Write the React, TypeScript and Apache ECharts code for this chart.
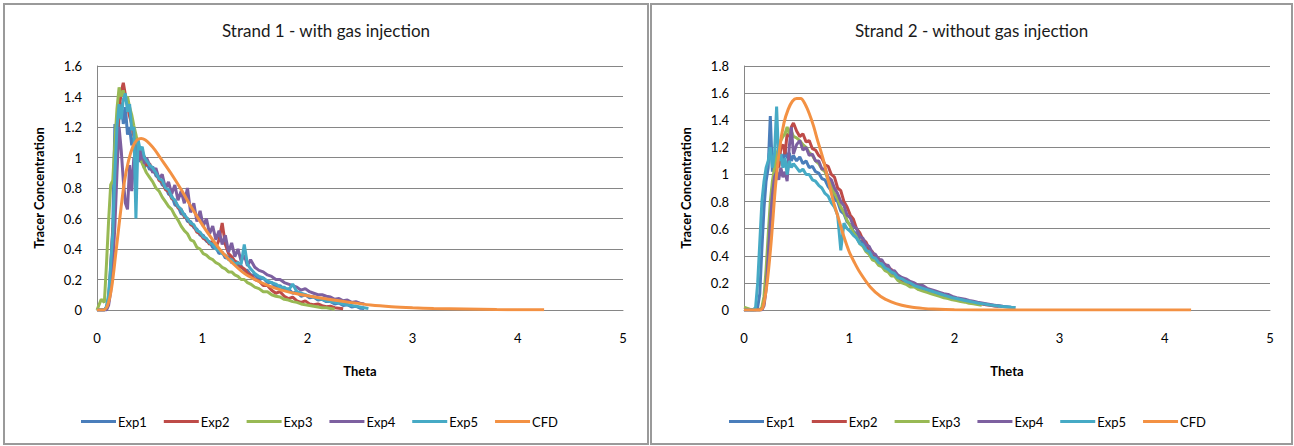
import React, { useEffect, useRef } from "react";
import * as echarts from "echarts";

// Shared theta sampling grid for the experimental curves
const THETA_EXP = [
  0, 0.04, 0.07, 0.09, 0.11, 0.13, 0.15, 0.17,
  0.19, 0.21, 0.23, 0.25, 0.27, 0.29, 0.31, 0.33, 0.35, 0.37, 0.39, 0.41, 0.43, 0.45, 0.47,
  0.5, 0.53, 0.56, 0.59, 0.62, 0.65, 0.68, 0.71, 0.74, 0.77, 0.8, 0.83, 0.86, 0.89, 0.92, 0.95, 0.98,
  1.01, 1.04, 1.07, 1.1, 1.13, 1.16, 1.19, 1.22, 1.25, 1.28, 1.31, 1.34, 1.37, 1.4, 1.43, 1.46,
  1.5, 1.54, 1.58, 1.62, 1.66, 1.7, 1.74, 1.78, 1.82, 1.86, 1.9, 1.94, 1.98, 2.02, 2.06, 2.1,
  2.14, 2.18, 2.22, 2.26, 2.3, 2.34, 2.38, 2.42, 2.46, 2.5, 2.54, 2.58,
];

// Strand 1 - with gas injection
const S1_EXP1 = [
  0, 0, 0, 0.02, 0.08, 0.25, 0.55, 1.22,
  1.02, 1.28, 1.36, 1.22, 1.33, 1.15, 1.2, 1.08, 1.13, 1.0, 1.06, 0.97, 1.02, 0.93, 0.97,
  0.92, 0.94, 0.88, 0.87, 0.82, 0.81, 0.76, 0.75, 0.69, 0.68, 0.63, 0.63, 0.58, 0.58, 0.54, 0.53, 0.49,
  0.49, 0.45, 0.45, 0.41, 0.41, 0.37, 0.38, 0.34, 0.35, 0.31, 0.32, 0.28, 0.29, 0.26, 0.26, 0.23,
  0.23, 0.2, 0.21, 0.18, 0.18, 0.15, 0.16, 0.13, 0.14, 0.11, 0.12, 0.09, 0.1, 0.08, 0.085, 0.065,
  0.07, 0.055, 0.055, 0.04, 0.045, 0.03, 0.035, 0.02, 0.025, 0.012, 0.01,
];
const S1_EXP2 = [
  0, 0, 0, 0.01, 0.05, 0.28, 0.52, 0.7,
  1.08, 1.3, 1.43, 1.49, 1.41, 1.34, 1.27, 1.22, 1.14, 1.12, 1.05, 1.04, 0.98, 1.01, 0.95,
  0.96, 0.91, 0.9, 0.85, 0.84, 0.79, 0.78, 0.73, 0.72, 0.67, 0.66, 0.61, 0.6, 0.56, 0.55, 0.51, 0.5,
  0.47, 0.46, 0.43, 0.45, 0.41, 0.46, 0.57, 0.43, 0.37, 0.35, 0.32, 0.31, 0.28, 0.27, 0.24, 0.23,
  0.2, 0.19, 0.16, 0.16, 0.13, 0.11, 0.12, 0.09, 0.075, 0.085, 0.06, 0.05, 0.06, 0.04, 0.035, 0.04,
  0.028, 0.022, 0.025, 0.015, 0.012, 0.008,
];
const S1_EXP3 = [
  0, 0.07, 0.05, 0.3, 0.58, 0.82, 0.85, 1.1,
  1.32, 1.46, 1.4, 1.44, 1.37, 1.4, 1.33, 1.28, 1.21, 1.15, 1.08, 1.0, 0.96, 0.93, 0.9,
  0.87, 0.84, 0.8, 0.78, 0.74, 0.71, 0.68, 0.66, 0.62, 0.59, 0.55, 0.52, 0.5, 0.46, 0.45, 0.41, 0.4,
  0.37, 0.36, 0.34, 0.33, 0.31, 0.3, 0.28, 0.27, 0.25, 0.25, 0.23, 0.22, 0.2, 0.2, 0.18, 0.17,
  0.15, 0.14, 0.12, 0.12, 0.1, 0.09, 0.085, 0.07, 0.065, 0.055, 0.05, 0.04, 0.035, 0.03, 0.025, 0.02,
  0.015, 0.015, 0.01, 0.005,
];
const S1_EXP4 = [
  0, 0, 0, 0, 0.03, 0.12, 0.3, 0.55,
  0.9, 1.2, 1.05, 0.85, 0.7, 0.66, 0.95, 0.78, 1.0, 0.92, 1.08, 0.98, 1.05, 0.96, 1.0,
  0.95, 0.9, 0.93, 0.86, 0.89, 0.8, 0.84, 0.76, 0.82, 0.72, 0.78, 0.7, 0.8, 0.64, 0.7, 0.58, 0.65,
  0.55, 0.6, 0.5, 0.55, 0.46, 0.52, 0.43, 0.49, 0.38, 0.44, 0.35, 0.4, 0.32, 0.36, 0.29, 0.33,
  0.28, 0.26, 0.25, 0.23, 0.22, 0.2, 0.2, 0.18, 0.17, 0.16, 0.15, 0.13, 0.14, 0.12, 0.11, 0.1,
  0.1, 0.09, 0.085, 0.07, 0.075, 0.06, 0.065, 0.05, 0.055, 0.045, 0.04,
];
const S1_EXP5 = [
  0, 0, 0, 0.02, 0.1, 0.3, 0.5, 0.9,
  1.2, 1.35, 1.25, 1.38, 1.42, 1.3, 1.35, 1.18, 1.2, 0.6, 1.12, 1.05, 1.07, 1.0, 0.98,
  0.95, 0.93, 0.9, 0.86, 0.85, 0.8, 0.79, 0.74, 0.72, 0.68, 0.66, 0.62, 0.6, 0.57, 0.56, 0.52, 0.51,
  0.48, 0.47, 0.44, 0.43, 0.4, 0.39, 0.37, 0.36, 0.33, 0.33, 0.3, 0.31, 0.3, 0.43, 0.3, 0.27,
  0.24, 0.22, 0.21, 0.19, 0.18, 0.17, 0.15, 0.15, 0.13, 0.17, 0.12, 0.11, 0.1, 0.09, 0.085, 0.075,
  0.07, 0.06, 0.055, 0.05, 0.045, 0.04, 0.035, 0.03, 0.025, 0.02, 0.015, 0.01,
];
const S1_CFD_THETA = [
  0, 0.06, 0.1, 0.14, 0.18, 0.22, 0.26, 0.3, 0.34, 0.38, 0.42, 0.46, 0.5, 0.55, 0.6, 0.7, 0.8, 0.9,
  1.0, 1.1, 1.2, 1.3, 1.4, 1.5, 1.6, 1.7, 1.8, 1.9, 2.0, 2.2, 2.4, 2.6, 2.8, 3.0, 3.2, 3.5, 3.8, 4.0, 4.25,
];
const S1_CFD = [
  0, 0, 0.03, 0.15, 0.38, 0.62, 0.84, 0.98, 1.07, 1.115, 1.125, 1.115, 1.09, 1.05, 1.0, 0.9, 0.79, 0.67,
  0.56, 0.46, 0.37, 0.3, 0.24, 0.2, 0.168, 0.142, 0.122, 0.106, 0.093, 0.07, 0.05, 0.033, 0.022, 0.015, 0.01, 0.006, 0.003, 0.002, 0.001,
];

// Strand 2 - without gas injection
const S2_EXP1 = [
  0, 0, 0, 0, 0, 0.02, 0.12, 0.45,
  0.75, 0.95, 1.05, 1.43, 1.02, 1.1, 1.12, 1.06, 1.15, 1.1, 1.18, 1.12, 1.16, 1.1, 1.14,
  1.1, 1.13, 1.08, 1.1, 1.05, 1.06, 1.02, 1.01, 0.97, 0.96, 0.91, 0.88, 0.82, 0.8, 0.73, 0.71, 0.65,
  0.63, 0.58, 0.56, 0.51, 0.5, 0.45, 0.44, 0.4, 0.39, 0.35, 0.35, 0.31, 0.31, 0.27, 0.27, 0.24,
  0.22, 0.21, 0.19, 0.19, 0.16, 0.16, 0.14, 0.14, 0.12, 0.12, 0.1, 0.1, 0.088, 0.082, 0.075, 0.072,
  0.062, 0.06, 0.05, 0.048, 0.04, 0.038, 0.032, 0.03, 0.025, 0.024, 0.02, 0.018,
];
const S2_EXP2 = [
  0, 0, 0, 0, 0, 0, 0, 0.01,
  0.05, 0.2, 0.45, 0.7, 0.9, 1.0, 1.1, 1.05, 1.2, 1.22, 1.15, 1.3, 1.28, 1.35, 1.38,
  1.32, 1.28, 1.3, 1.24, 1.25, 1.19, 1.18, 1.14, 1.12, 1.07, 1.06, 1.0, 0.98, 0.9, 0.88, 0.8, 0.76,
  0.7, 0.67, 0.6, 0.57, 0.52, 0.5, 0.45, 0.43, 0.39, 0.38, 0.34, 0.34, 0.3, 0.3, 0.26, 0.25,
  0.22, 0.21, 0.19, 0.18, 0.16, 0.16, 0.14, 0.13, 0.12, 0.11, 0.1, 0.095, 0.085, 0.08, 0.07, 0.068,
  0.06, 0.055, 0.048, 0.045, 0.038, 0.035, 0.03, 0.027,
];
const S2_EXP3 = [
  0.02, 0.01, 0, 0, 0, 0, 0, 0.02,
  0.1, 0.3, 0.55, 0.8, 0.95, 1.05, 1.15, 1.2, 1.25, 1.28, 1.3, 1.35, 1.3, 1.32, 1.28,
  1.27, 1.25, 1.22, 1.2, 1.16, 1.14, 1.1, 1.08, 1.04, 1.02, 0.96, 0.92, 0.86, 0.82, 0.76, 0.72, 0.66,
  0.62, 0.57, 0.54, 0.49, 0.47, 0.43, 0.41, 0.37, 0.36, 0.33, 0.32, 0.29, 0.28, 0.25, 0.25, 0.22,
  0.2, 0.19, 0.17, 0.17, 0.15, 0.14, 0.13, 0.12, 0.11, 0.1, 0.09, 0.085, 0.075, 0.07, 0.062, 0.058,
  0.05, 0.046, 0.04, 0.035,
];
const S2_EXP4 = [
  0, 0, 0, 0, 0, 0, 0, 0,
  0.03, 0.15, 0.4, 0.65, 0.85, 0.98, 1.02, 0.96, 1.05, 0.98, 1.02, 0.95, 1.2, 1.35, 1.15,
  1.22, 1.25, 1.18, 1.2, 1.14, 1.15, 1.1, 1.1, 1.04, 1.04, 0.98, 0.96, 0.9, 0.86, 0.8, 0.77, 0.7,
  0.68, 0.62, 0.6, 0.54, 0.53, 0.48, 0.47, 0.42, 0.41, 0.37, 0.37, 0.33, 0.33, 0.29, 0.29, 0.26,
  0.24, 0.23, 0.21, 0.2, 0.18, 0.18, 0.16, 0.15, 0.14, 0.13, 0.12, 0.115, 0.1, 0.09, 0.085, 0.08,
  0.07, 0.065, 0.058, 0.052, 0.046, 0.04, 0.036, 0.032, 0.028,
];
const S2_EXP5 = [
  0, 0, 0, 0, 0.02, 0.2, 0.5, 0.8,
  0.95, 1.05, 1.1, 1.2, 1.05, 1.15, 1.5, 1.1, 1.15, 1.05, 1.12, 1.0, 1.1, 1.05, 1.08,
  1.05, 1.02, 1.04, 1.0, 1.0, 0.96, 0.95, 0.92, 0.9, 0.86, 0.84, 0.79, 0.76, 0.7, 0.44, 0.64, 0.6,
  0.58, 0.55, 0.53, 0.49, 0.48, 0.44, 0.43, 0.39, 0.38, 0.35, 0.34, 0.31, 0.3, 0.28, 0.27, 0.24,
  0.23, 0.21, 0.2, 0.18, 0.17, 0.16, 0.15, 0.14, 0.13, 0.12, 0.11, 0.1, 0.09, 0.085, 0.078, 0.07,
  0.064, 0.058, 0.052, 0.047, 0.042, 0.037, 0.033, 0.03, 0.026, 0.023, 0.02, 0.018,
];
const S2_CFD_THETA = [
  0, 0.15, 0.18, 0.22, 0.26, 0.3, 0.34, 0.38, 0.42, 0.46, 0.5, 0.54, 0.58, 0.62, 0.66, 0.7, 0.75, 0.8,
  0.85, 0.9, 0.95, 1.0, 1.05, 1.1, 1.2, 1.3, 1.4, 1.5, 1.6, 1.7, 1.8, 2.0, 2.5, 3.0, 4.25,
];
const S2_CFD = [
  0, 0, 0.02, 0.2, 0.52, 0.92, 1.2, 1.38, 1.48, 1.54, 1.56, 1.56, 1.52, 1.45, 1.36, 1.25, 1.12, 0.96,
  0.8, 0.67, 0.54, 0.43, 0.35, 0.28, 0.17, 0.1, 0.06, 0.035, 0.02, 0.012, 0.007, 0.002, 0.0005, 0, 0,
];

const SERIES_NAMES = ["Exp1", "Exp2", "Exp3", "Exp4", "Exp5", "CFD"];
const SERIES_COLORS = ["#4A7EBB", "#BE4B48", "#98B954", "#7D60A0", "#46AAC5", "#F39143"];
const PANEL_TITLES = ["Strand 1 - with gas injection", "Strand 2 - without gas injection"];
const Y_MAX = [1.6, 1.8];
const X_NAME = "Theta";
const Y_NAME = "Tracer Concentration";

const FONT = "Lato, 'Liberation Sans', sans-serif";

function zip(xs: number[], ys: number[]) {
  const out: number[][] = [];
  for (let i = 0; i < ys.length && i < xs.length; i++) out.push([xs[i], ys[i]]);
  return out;
}

export default function App() {
  const ref = useRef<HTMLDivElement>(null);
  useEffect(() => {
    if (!ref.current) return;
    const chart = echarts.init(ref.current, undefined, { renderer: "svg" });
    const panels = [
      { exps: [S1_EXP1, S1_EXP2, S1_EXP3, S1_EXP4, S1_EXP5], cfdT: S1_CFD_THETA, cfd: S1_CFD },
      { exps: [S2_EXP1, S2_EXP2, S2_EXP3, S2_EXP4, S2_EXP5], cfdT: S2_CFD_THETA, cfd: S2_CFD },
    ];
    const gridLefts = [97, 744];
    const panelRects = [
      { x: 4, w: 644 },
      { x: 651, w: 641 },
    ];
    const series: any[] = [];
    panels.forEach((p, pi) => {
      p.exps.forEach((vals, si) => {
        series.push({
          name: SERIES_NAMES[si],
          type: "line",
          xAxisIndex: pi,
          yAxisIndex: pi,
          showSymbol: false,
          symbol: "none",
          data: zip(THETA_EXP, vals),
          lineStyle: { width: 3, color: SERIES_COLORS[si] },
          itemStyle: { color: SERIES_COLORS[si] },
        });
      });
      series.push({
        name: "CFD",
        type: "line",
        xAxisIndex: pi,
        yAxisIndex: pi,
        showSymbol: false,
        symbol: "none",
        smooth: 0.3,
        data: zip(p.cfdT, p.cfd),
        lineStyle: { width: 3, color: SERIES_COLORS[5] },
        itemStyle: { color: SERIES_COLORS[5] },
      });
    });

    const option: any = {
      animation: false,
      textStyle: { fontFamily: FONT },
      grid: gridLefts.map((l) => ({ left: l, top: 66, width: 526, height: 244 })),
      xAxis: gridLefts.map((_, i) => ({
        gridIndex: i,
        type: "value",
        min: 0,
        max: 5,
        interval: 1,
        axisLine: { show: true, onZero: false, lineStyle: { color: "#868686", width: 1 } },
        axisTick: { show: false },
        splitLine: { show: false },
        axisLabel: { margin: 21, color: "#000", fontSize: 13, fontFamily: FONT },
        name: X_NAME,
        nameLocation: "middle",
        nameGap: 54,
        nameTextStyle: { fontWeight: "bold", fontSize: 13, color: "#000", fontFamily: FONT },
      })),
      yAxis: gridLefts.map((_, i) => ({
        gridIndex: i,
        type: "value",
        min: 0,
        max: Y_MAX[i],
        interval: 0.2,
        axisLine: { show: true, lineStyle: { color: "#868686", width: 1 } },
        axisTick: { show: false },
        splitLine: { show: true, lineStyle: { color: "#868686", width: 1 } },
        axisLabel: { margin: 15, color: "#000", fontSize: 13, fontFamily: FONT },
        name: Y_NAME,
        nameLocation: "middle",
        nameGap: 52,
        nameTextStyle: { fontWeight: "bold", fontSize: 13, color: "#000", fontFamily: FONT },
      })),
      legend: gridLefts.map((_, i) => ({
        left: i === 0 ? 76 : 724,
        top: 410,
        icon: "rect",
        itemWidth: 35,
        itemHeight: 3,
        itemGap: 17,
        selectedMode: false,
        data: SERIES_NAMES,
        textStyle: { fontSize: 13, color: "#000", fontFamily: FONT, padding: [0, 0, 0, -3] },
      })),
      graphic: [
        ...panelRects.map((r) => ({
          type: "rect",
          shape: { x: r.x, y: 4, width: r.w, height: 440 },
          style: { fill: "none", stroke: "#9a9a9a", lineWidth: 2 },
          silent: true,
        })),
        ...PANEL_TITLES.map((t, i) => ({
          type: "text",
          x: panelRects[i].x + panelRects[i].w / 2,
          y: 30,
          style: {
            text: t,
            fontSize: 17,
            fontFamily: FONT,
            fill: "#1a1a1a",
            textAlign: "center",
            textVerticalAlign: "middle",
          },
        })),
      ],
      series,
    };
    chart.setOption(option);
    return () => chart.dispose();
  }, []);
  return (
    <div
      ref={ref}
      style={{ position: "fixed", left: 0, top: 0, width: 1294, height: 446, background: "#fff" }}
    />
  );
}
